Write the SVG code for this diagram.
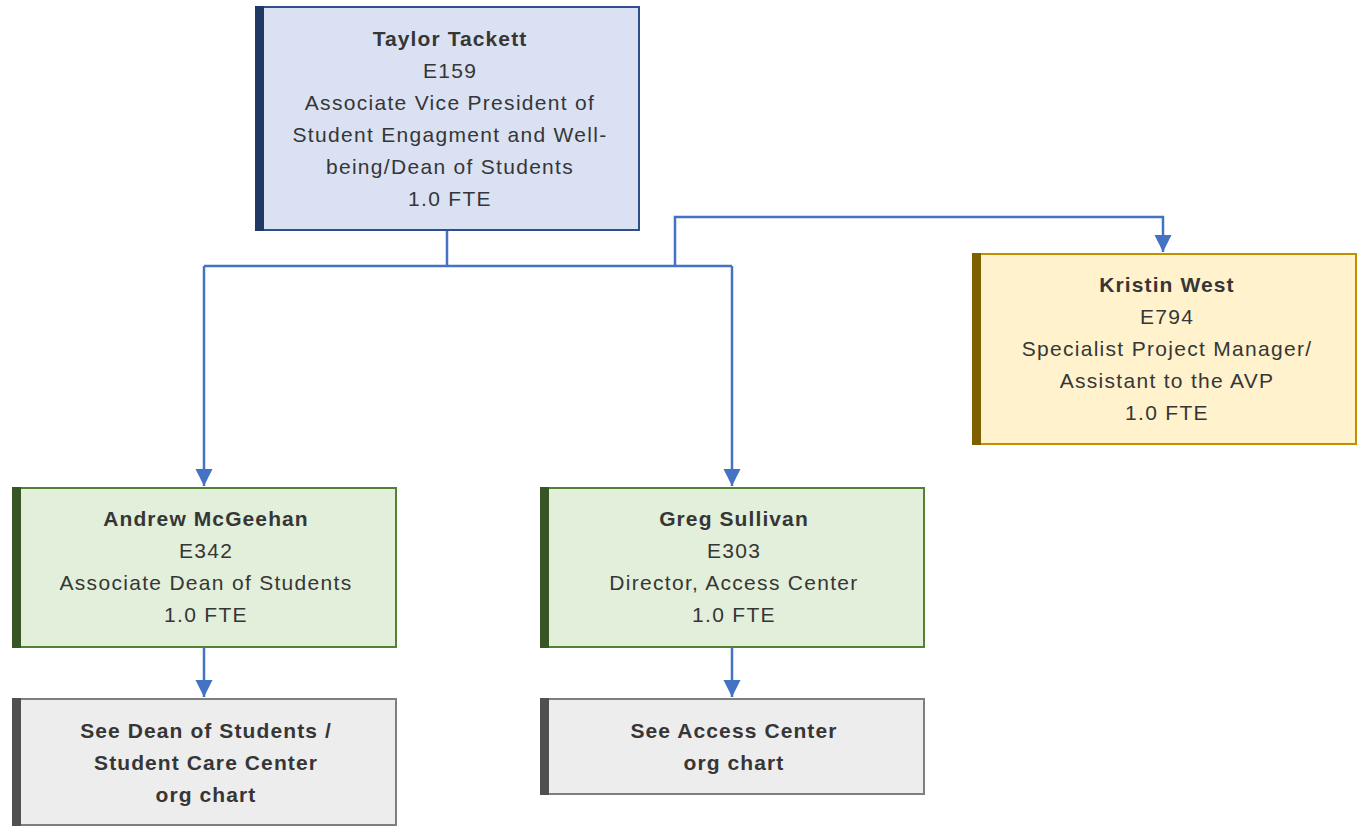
<svg xmlns="http://www.w3.org/2000/svg" width="1363" height="826" viewBox="0 0 1363 826">
<style>
text{font-family:"Liberation Sans",Arial,sans-serif;font-size:21px;letter-spacing:1.3px;fill:#363636;text-anchor:middle}
.b{font-weight:bold;letter-spacing:1.1px}
.blue{fill:#dae1f3;stroke:#2f4f8a;stroke-width:2}
.gold{fill:#fff2cc;stroke:#bf9000;stroke-width:2}
.green{fill:#e2efda;stroke:#548235;stroke-width:2}
.gray{fill:#ededed;stroke:#7f7f7f;stroke-width:2}
.conn{fill:none;stroke:#4472c4;stroke-width:2.5}
</style>
<defs>
<marker id="ah" viewBox="0 0 10 10" refX="10" refY="5" markerWidth="7" markerHeight="7" orient="auto" markerUnits="strokeWidth">
<path d="M0,0 L10,5 L0,10 Z" fill="#4472c4"/>
</marker>
</defs>
<g id="connectors">
<path class="conn" d="M447,230 V266"/>
<path class="conn" d="M204,266 H732"/>
<path class="conn" d="M204,266 V486" marker-end="url(#ah)"/>
<path class="conn" d="M732,266 V486" marker-end="url(#ah)"/>
<path class="conn" d="M675,266 V217 H1163 V252" marker-end="url(#ah)"/>
<path class="conn" d="M204,647 V697" marker-end="url(#ah)"/>
<path class="conn" d="M732,647 V697" marker-end="url(#ah)"/>
</g>
<g id="taylor">
<rect class="blue" x="256" y="7" width="383" height="223"/>
<rect x="255" y="6" width="9" height="225" fill="#203864"/>
<text x="450" y="46" class="b">Taylor Tackett</text>
<text x="450" y="78">E159</text>
<text x="450" y="110">Associate Vice President of</text>
<text x="450" y="142">Student Engagment and Well-</text>
<text x="450" y="174">being/Dean of Students</text>
<text x="450" y="206">1.0 FTE</text>
</g>
<g id="kristin">
<rect class="gold" x="973" y="254" width="383" height="190"/>
<rect x="972" y="253" width="9" height="192" fill="#7f6000"/>
<text x="1167" y="292" class="b">Kristin West</text>
<text x="1167" y="324">E794</text>
<text x="1167" y="356">Specialist Project Manager/</text>
<text x="1167" y="388">Assistant to the AVP</text>
<text x="1167" y="420">1.0 FTE</text>
</g>
<g id="andrew">
<rect class="green" x="13" y="488" width="383" height="159"/>
<rect x="12" y="487" width="9" height="161" fill="#375623"/>
<text x="206" y="526" class="b">Andrew McGeehan</text>
<text x="206" y="558">E342</text>
<text x="206" y="590">Associate Dean of Students</text>
<text x="206" y="622">1.0 FTE</text>
</g>
<g id="greg">
<rect class="green" x="541" y="488" width="383" height="159"/>
<rect x="540" y="487" width="9" height="161" fill="#375623"/>
<text x="734" y="526" class="b">Greg Sullivan</text>
<text x="734" y="558">E303</text>
<text x="734" y="590">Director, Access Center</text>
<text x="734" y="622">1.0 FTE</text>
</g>
<g id="dos-chart">
<rect class="gray" x="13" y="699" width="383" height="126"/>
<rect x="12" y="698" width="9" height="128" fill="#505050"/>
<text x="206" y="738" class="b">See Dean of Students /</text>
<text x="206" y="770" class="b">Student Care Center</text>
<text x="206" y="802" class="b">org chart</text>
</g>
<g id="access-chart">
<rect class="gray" x="541" y="699" width="383" height="95"/>
<rect x="540" y="698" width="9" height="97" fill="#505050"/>
<text x="734" y="738" class="b">See Access Center</text>
<text x="734" y="770" class="b">org chart</text>
</g>
</svg>
